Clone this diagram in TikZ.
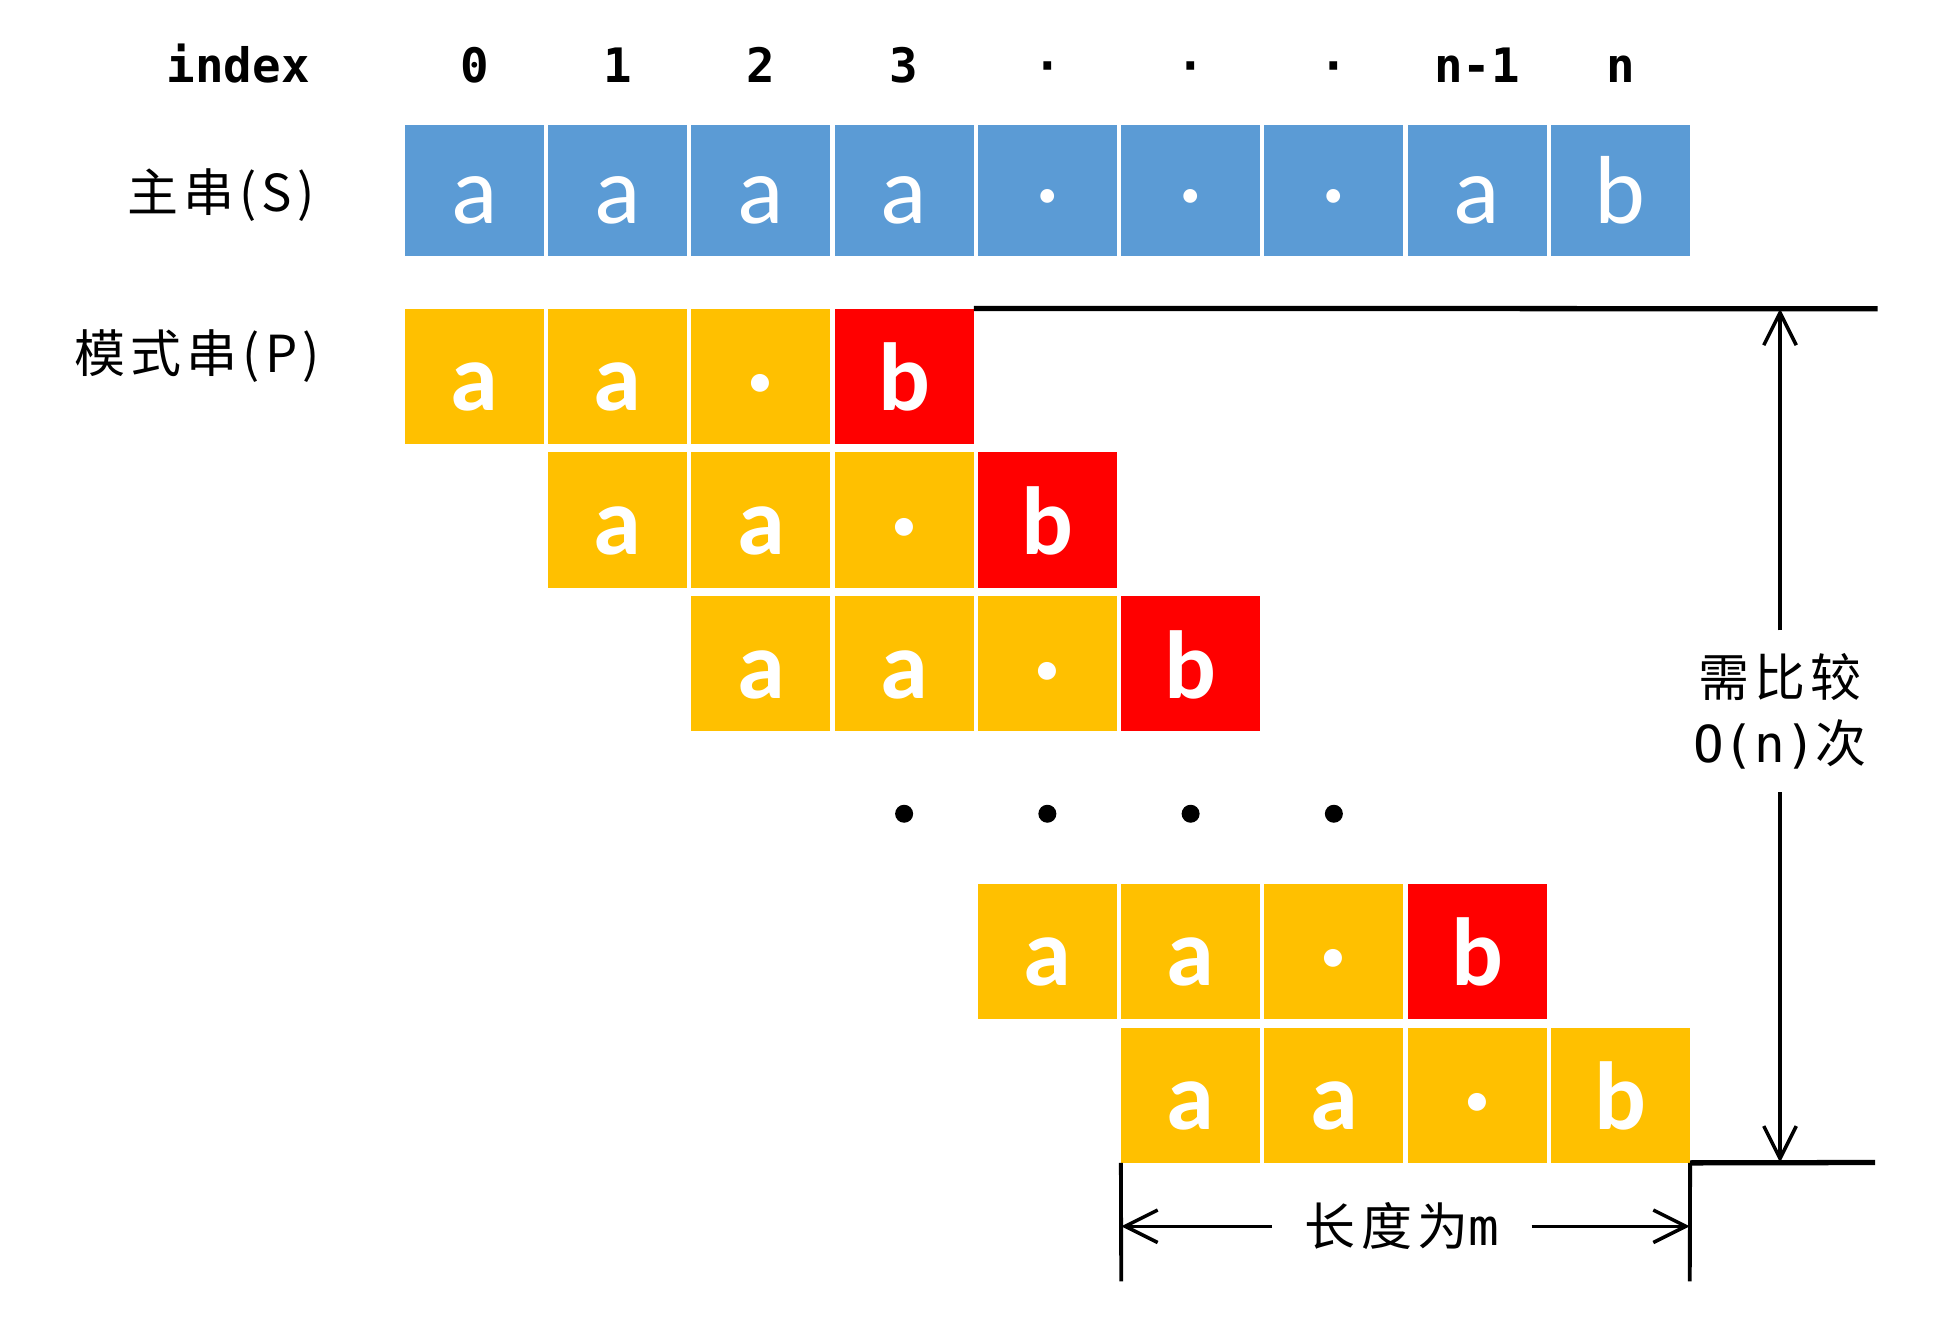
\documentclass[tikz,border=0pt]{standalone}
\usepackage{fontspec}
\usetikzlibrary{arrows.meta,positioning,calc}
\newfontfamily\cellfont{Carlito}
\newfontfamily\idxfont{DejaVu Sans Mono}
\newfontfamily\cjk[LetterSpace=10]{Noto Sans CJK SC}
\definecolor{sblue}{HTML}{5B9BD5}
\definecolor{pyellow}{HTML}{FFC000}
\definecolor{pred}{HTML}{FF0000}

\begin{document}
\begin{tikzpicture}[x=0.025cm,y=-0.025cm]

\tikzset{scell/.style={fill=sblue,text=white,inner sep=0pt,minimum width=2.775cm,minimum height=2.625cm,text height=1.33cm,text depth=0pt,font=\cellfont\fontsize{55}{55}\selectfont},
pcell/.style={fill=pyellow,text=white,inner sep=0pt,minimum width=2.775cm,minimum height=2.7cm,text height=1.37cm,text depth=0pt,font=\cellfont\bfseries\fontsize{55}{55}\selectfont},
idx/.style={inner sep=0pt,anchor=base,font=\idxfont\bfseries\fontsize{27}{27}\selectfont},
cjklabel/.style={inner sep=0pt,font=\cjk\fontsize{29}{29}\selectfont},
bigdot/.style={shape=circle,fill=black,inner sep=0pt,minimum size=0.36cm},
thickline/.style={line width=3pt},
tickline/.style={line width=2.2pt},
arr/.style={line width=2pt,-{Straight Barb[length=6.5mm,width=6.5mm]}}}

\useasboundingbox (0,0) rectangle (1556.8,1057.6);

% Index row
\node[idx,anchor=base east] (idx) at (248,66) {index};
\foreach \t [count=\i from 0] in {0,1,2,3,·,·,·,n-1,n} \node[idx] (i\i) at (379.5+114.6*\i,66) {\t};

% Main string S
\node[cjklabel,anchor=east] (slabel) at (252,156) {主串(S)};
\foreach \t [count=\i from 0] in {a,a,a,a,·,·,·,a,b} \node[scell] (s\i) at (379.5+114.6*\i,152.5) {\t};

% Pattern P, shifted one place per row
\node[cjklabel,anchor=east] (plabel) at (256,285) {模式串(P)};
\foreach \r in {0,1,2,4,5} \foreach \t [count=\j from 0] in {a,a,·,b} {
  \pgfmathtruncatemacro\c{\r+\j}
  \node[pcell] (p\r\c) at (379.5+114.6*\c,301+115*\r) {\t};
}

% Mismatch cells
\foreach \r in {0,1,2,4} {\pgfmathtruncatemacro\c{\r+3} \node[pcell,fill=pred] at (p\r\c) {b};}

% Dots between rows
\foreach \x in {3,...,6} \node[bigdot] (d\x) at (379.5+114.6*\x,651) {};

% Number of comparisons
\coordinate (topR) at (1502,247); \coordinate (botR) at (1500,930);
\coordinate (vtop) at (1424,247); \coordinate (vbot) at (1424,930);
\draw[thickline] (p03.north east) -- (topR);
\draw[thickline] (p58.south east) -- (botR);
\node[cjklabel,align=center,inner xsep=0pt,inner ysep=0.45cm,font=\cjk\fontsize{29}{37.6}\selectfont] (cmp) at (1424,569) {需比较\\{\idxfont O(n)}次};
\draw[arr] (cmp) -- (vtop); \draw[arr] (cmp) -- (vbot);

% Length of P
\coordinate (tickL) at (897,1025); \coordinate (tickR) at (1351.8,1025);
\coordinate (lenL) at (897,981); \coordinate (lenR) at (1351.8,981);
\draw[tickline] (p55.south west) -- (tickL); \draw[tickline] (p58.south east) -- (tickR);
\node[cjklabel,inner xsep=0.65cm] (len) at (1121.5,981) {长度为{\idxfont m}};
\draw[arr] (len) -- (lenL); \draw[arr] (len) -- (lenR);

\end{tikzpicture}
\end{document}
